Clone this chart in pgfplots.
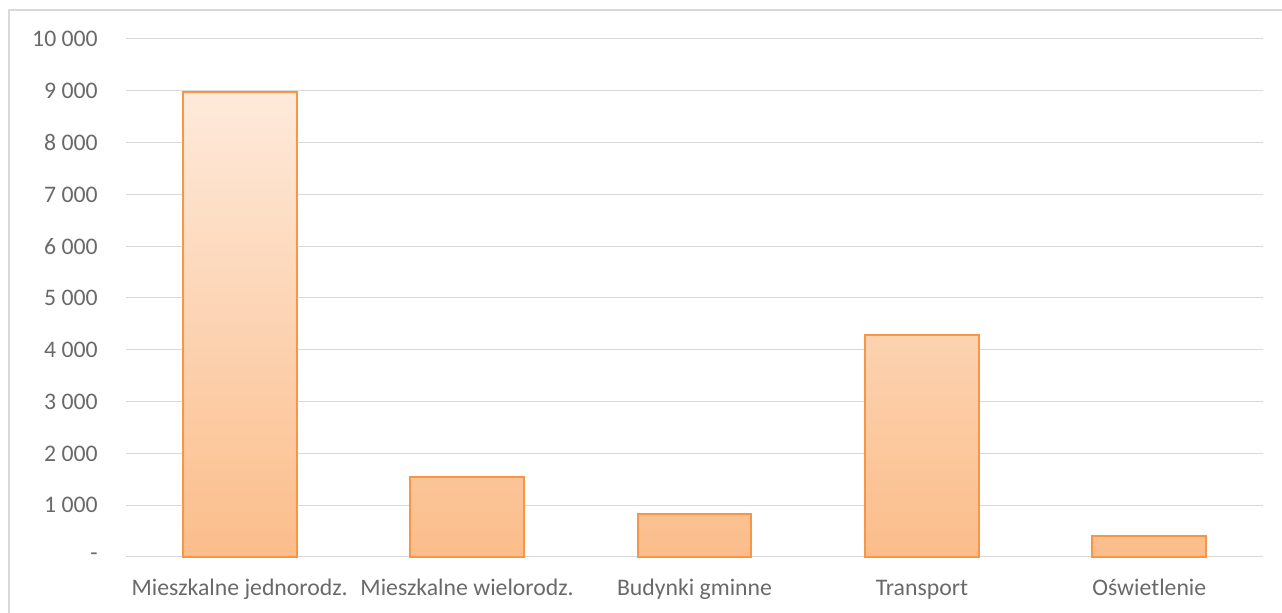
\documentclass[border=0pt]{standalone}
\usepackage{fontspec}
\setmainfont{Carlito}
\usepackage{pgfplots}
\pgfplotsset{compat=1.18}
\definecolor{gridc}{RGB}{217,217,217}
\definecolor{framec}{RGB}{217,217,217}
\definecolor{labc}{RGB}{105,105,105}
\definecolor{barline}{RGB}{247,150,70}
\definecolor{bartop}{RGB}{254,234,219}
\definecolor{barbot}{RGB}{251,189,138}
\begin{document}
\begin{tikzpicture}[x=1pt,y=1pt]
\useasboundingbox (-94.5,-42) rectangle (867,417.75);
\draw[framec, line width=1.5pt] (-87.4,-42) -- (-87.4,410.6) -- (867,410.6);
\begin{axis}[
  at={(0pt,0pt)}, anchor=south west,
  scale only axis, width=852.75pt, height=388.5pt,
  xmin=-0.5, xmax=4.5, ymin=0, ymax=10000,
  scaled y ticks=false,
  axis line style={draw=none},
  tick style={draw=none}, major tick length=0pt,
  ymajorgrids, grid style={gridc, line width=0.75pt},
  ytick={0,1000,2000,3000,4000,5000,6000,7000,8000,9000,10000},
  yticklabels={-,1 000,2 000,3 000,4 000,5 000,6 000,7 000,8 000,9 000,10 000},
  xtick={0,1,2,3,4},
  xticklabels={Mieszkalne jednorodz.,Mieszkalne wielorodz.,Budynki gminne,Transport,Oświetlenie},
  yticklabel style={font=\fontsize{17.8pt}{21pt}\selectfont, text=labc, anchor=east, inner sep=0pt, xshift=-21pt},
  xticklabel style={font=\fontsize{17.8pt}{21pt}\selectfont, text=labc, anchor=base, inner sep=0pt, yshift=-29.25pt},
  clip=false,
]
\addplot[ybar, bar width=0.5, draw=barline, line width=1.5pt, top color=bartop, bottom color=barbot]
  coordinates {(0,8980) (1,1545) (2,830) (3,4290) (4,405)};
\end{axis}
\end{tikzpicture}
\end{document}
